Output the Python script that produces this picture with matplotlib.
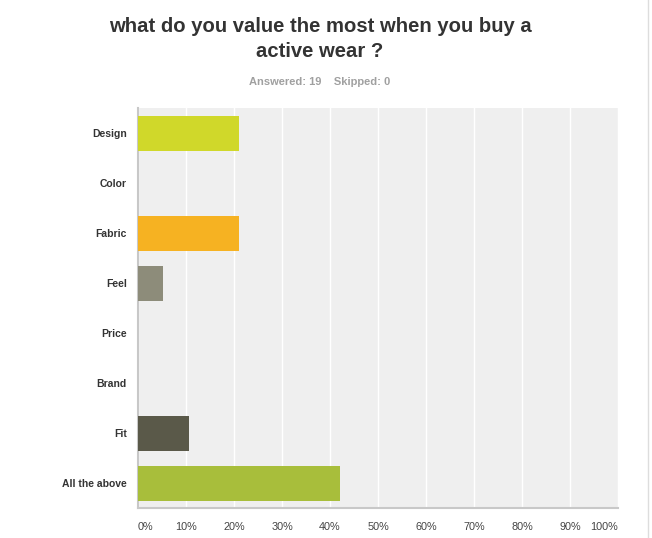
import matplotlib

matplotlib.use("Agg")
import matplotlib.pyplot as plt

# Survey answers (19 respondents), percent of respondents
categories = ["Design", "Color", "Fabric", "Feel", "Price", "Brand", "Fit", "All the above"]
percents = [21.05, 0.0, 21.05, 5.26, 0.0, 0.0, 10.53, 42.11]
bar_colors = ["#D0D82A", "#D0D82A", "#F6B222", "#8D8C7A", "#8D8C7A", "#8D8C7A", "#5A5949", "#A8BE3B"]
tick_values = [0, 10, 20, 30, 40, 50, 60, 70, 80, 90, 100]
tick_labels = [f"{v}%" for v in tick_values]

title = "what do you value the most when you buy a\nactive wear ?"
subtitle = "Answered: 19    Skipped: 0"

plt.rcParams["font.family"] = ["Liberation Sans", "DejaVu Sans"]

fig = plt.figure(figsize=(6.52, 5.38), dpi=100)
ax = fig.add_axes([138 / 652, 30 / 538, 480 / 652, 400 / 538])
ax.set_facecolor("#EFEFEF")

y_pos = list(range(len(categories)))
ax.barh(y_pos, percents, height=0.7, color=bar_colors, zorder=3)
ax.set_ylim(len(categories) - 0.5, -0.5)
ax.set_xlim(0, 100)

ax.set_yticks(y_pos)
ax.set_yticklabels(categories, fontsize=7.5, fontweight="bold", color="#333333")
ax.set_xticks(tick_values)
ax.set_xticklabels(tick_labels, fontsize=7.8, color="#444444")
labels = ax.get_xticklabels()
labels[0].set_horizontalalignment("left")
labels[-1].set_horizontalalignment("right")
ax.tick_params(axis="both", length=0)
ax.tick_params(axis="y", pad=8)
ax.tick_params(axis="x", pad=10)

ax.grid(axis="x", color="white", linewidth=1, zorder=1)
for side in ["top", "right"]:
    ax.spines[side].set_visible(False)
for side in ["left", "bottom"]:
    ax.spines[side].set_color("#C8C8C8")
    ax.spines[side].set_linewidth(1.5)

fig.text(320 / 652, 1 - 39 / 538, title, ha="center", va="center",
         fontsize=14.6, fontweight="bold", color="#333333", linespacing=1.35)
fig.text(320 / 652, 1 - 82 / 538, subtitle, ha="center", va="center",
         fontsize=8, fontweight="bold", color="#A0A0A0")

# thin page border on the right
fig.add_artist(plt.Line2D([648 / 652, 648 / 652], [0, 1], color="#DDDDDD", linewidth=1))

fig.savefig("out.png", dpi=100)
